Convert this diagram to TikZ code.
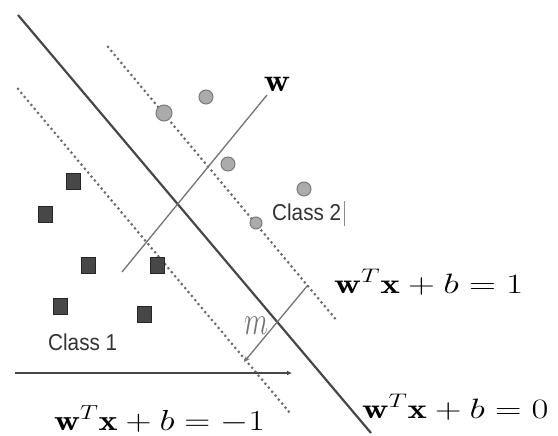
\RequirePackage{fix-cm}
\documentclass[tikz,border=0pt]{standalone}
\usepackage{fontspec}
\newfontfamily\classfont{Liberation Sans}
\usetikzlibrary{arrows.meta}
\begin{document}
\begin{tikzpicture}[x=1pt,y=-1pt,
  mainline/.style={line width=2.2pt, draw=black!72},
  margdot/.style={line width=3pt, draw=black!58, dash pattern=on 0pt off 5.2pt, line cap=round},
  thinline/.style={line width=1.3pt, draw=black!55},
  sq/.style={draw=black!85, fill=black!72, minimum width=14pt, minimum height=16pt, inner sep=0pt},
  circ/.style={circle, draw=black!52, fill=black!33, minimum size=14pt, inner sep=0pt, line width=1pt},
  eq/.style={inner sep=0pt, anchor=base west},
  cls/.style={inner sep=0pt, anchor=base west, text=black!80}]
\useasboundingbox (0,0) rectangle (558,436);
% hyperplanes
\coordinate (h0a) at (18,15);   \coordinate (h0b) at (371,433);
\coordinate (hpa) at (108,47);  \coordinate (hpb) at (338,322);
\coordinate (hma) at (18,89);   \coordinate (hmb) at (290,413);
\draw[mainline] (h0a) -- (h0b);
\draw[margdot] (hpa) -- (hpb);
\draw[margdot] (hma) -- (hmb);
% w direction
\coordinate (wa) at (122,272); \coordinate (wb) at (267,95);
\draw[thinline] (wa) -- (wb);
\node[inner sep=0pt, anchor=base] (wl) at (277,92) {\scalebox{1.3}[1.15]{\fontsize{28}{30}\selectfont$\mathbf{w}$}};
% margin
\coordinate (ma) at (308,285); \coordinate (mb) at (244,362);
\draw[thinline,-{Stealth[length=6pt,width=5pt]}] (ma) -- (mb);
\node[inner sep=0pt, text=black!55] (ml) at (256,326) {\scalebox{1}[1.45]{\fontsize{28}{30}\selectfont$m$}};
% horizontal axis
\coordinate (xa) at (15,373); \coordinate (xb) at (292,373);
\draw[line width=1.4pt, draw=black!72, -{Latex[length=5pt,width=5pt]}] (xa) -- (xb);
% class 2 points
\node[circ, minimum size=16pt] (c1) at (164,113) {};
\node[circ] (c2) at (206,97) {};
\node[circ] (c3) at (228,164) {};
\node[circ] (c4) at (304,189) {};
\node[circ, minimum size=12pt] (c5) at (256,223) {};
% class 1 points
\node[sq] (s1) at (73,181) {};
\node[sq] (s2) at (45,214) {};
\node[sq] (s3) at (88,265) {};
\node[sq] (s4) at (157,265) {};
\node[sq] (s5) at (60,306) {};
\node[sq] (s6) at (144,314) {};
% labels
\node[cls] (cl1) at (48,350) {\scalebox{0.9}[1]{\classfont\fontsize{23}{25}\selectfont Class 1}};
\node[cls] (cl2) at (272,221) {\scalebox{0.9}[1]{\classfont\fontsize{23}{25}\selectfont Class 2}};
\coordinate (cura) at (344,201); \coordinate (curb) at (344,226);
\draw[line width=0.8pt, draw=black!45] (cura) -- (curb);
\node[eq] (e1) at (334,293) {\scalebox{1.33}[1]{\fontsize{28}{30}\selectfont$\mathbf{w}^T\mathbf{x}+b=1$}};
\node[eq] (e2) at (54,430) {\scalebox{1.24}[1]{\fontsize{29}{31}\selectfont$\mathbf{w}^T\mathbf{x}+b=-1$}};
\node[eq] (e3) at (362,418) {\scalebox{1.31}[1]{\fontsize{28}{30}\selectfont$\mathbf{w}^T\mathbf{x}+b=0$}};
\end{tikzpicture}
\end{document}
